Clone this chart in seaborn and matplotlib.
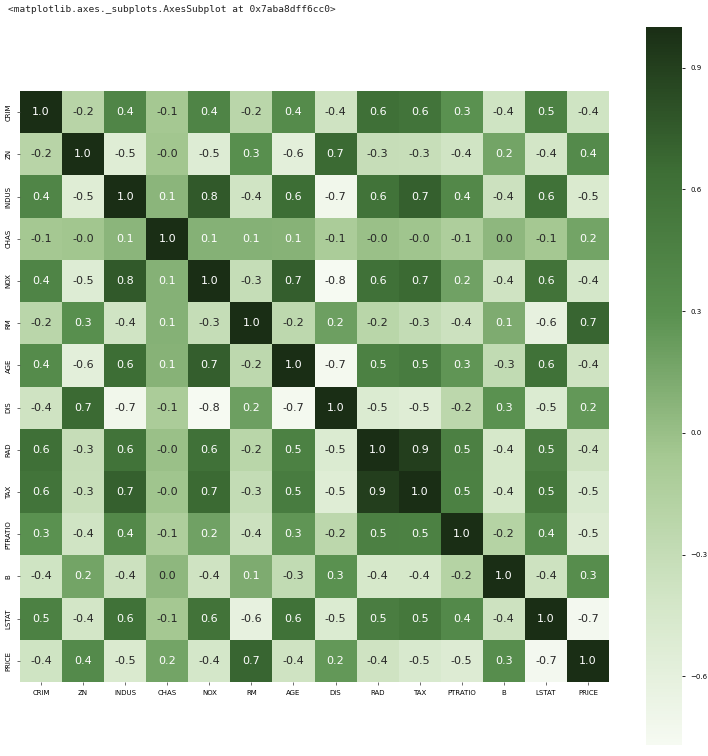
import numpy as np
import pandas as pd
import matplotlib
matplotlib.use("Agg")
import matplotlib.pyplot as plt
import seaborn as sns

labels = ["CRIM", "ZN", "INDUS", "CHAS", "NOX", "RM", "AGE", "DIS",
          "RAD", "TAX", "PTRATIO", "B", "LSTAT", "PRICE"]

crim    = [1.000, -0.200, 0.407, -0.056, 0.421, -0.219, 0.353, -0.380, 0.626, 0.583, 0.290, -0.385, 0.456, -0.388]
zn      = [-0.200, 1.000, -0.534, -0.043, -0.517, 0.312, -0.570, 0.664, -0.312, -0.315, -0.392, 0.176, -0.413, 0.360]
indus   = [0.407, -0.534, 1.000, 0.063, 0.764, -0.392, 0.645, -0.708, 0.595, 0.721, 0.383, -0.357, 0.604, -0.484]
chas    = [-0.056, -0.043, 0.063, 1.000, 0.091, 0.091, 0.087, -0.099, -0.007, -0.036, -0.122, 0.049, -0.054, 0.175]
nox     = [0.421, -0.517, 0.764, 0.091, 1.000, -0.302, 0.731, -0.769, 0.611, 0.668, 0.189, -0.380, 0.591, -0.427]
rm      = [-0.219, 0.312, -0.392, 0.091, -0.302, 1.000, -0.240, 0.205, -0.210, -0.292, -0.356, 0.128, -0.614, 0.695]
age     = [0.353, -0.570, 0.645, 0.087, 0.731, -0.240, 1.000, -0.748, 0.456, 0.506, 0.262, -0.274, 0.602, -0.377]
dis     = [-0.380, 0.664, -0.708, -0.099, -0.769, 0.205, -0.748, 1.000, -0.495, -0.534, -0.232, 0.292, -0.497, 0.2499]
rad     = [0.626, -0.312, 0.595, -0.007, 0.611, -0.210, 0.456, -0.495, 1.000, 0.910, 0.465, -0.444, 0.489, -0.382]
tax     = [0.583, -0.315, 0.721, -0.036, 0.668, -0.292, 0.506, -0.534, 0.910, 1.000, 0.461, -0.442, 0.544, -0.469]
ptratio = [0.290, -0.392, 0.383, -0.122, 0.189, -0.356, 0.262, -0.232, 0.465, 0.461, 1.000, -0.177, 0.374, -0.508]
b       = [-0.385, 0.176, -0.357, 0.049, -0.380, 0.128, -0.274, 0.292, -0.444, -0.442, -0.177, 1.000, -0.366, 0.333]
lstat   = [0.456, -0.413, 0.604, -0.054, 0.591, -0.614, 0.602, -0.497, 0.489, 0.544, 0.374, -0.366, 1.000, -0.738]
price   = [-0.388, 0.360, -0.484, 0.175, -0.427, 0.695, -0.377, 0.2499, -0.382, -0.469, -0.508, 0.333, -0.738, 1.000]

rows = [crim, zn, indus, chas, nox, rm, age, dis, rad, tax, ptratio, b, lstat, price]
corr = pd.DataFrame(rows, index=labels, columns=labels)

fig = plt.figure(figsize=(7.08, 7.56), dpi=100)
ax = fig.add_axes([20/708, 1 - 682/756, 589/708, 591/756])
cax = fig.add_axes([646/708, 11/756, 36/708, 718/756])

cmap = sns.blend_palette(["#f6faf2", "#d3e6c7", "#a6c993", "#5a9150", "#3d6e35", "#1a2e15"],
                         as_cmap=True)

sns.heatmap(corr, ax=ax, cbar_ax=cax, cmap=cmap, annot=True, fmt=".1f",
            annot_kws={"size": 8}, square=False)

ax.tick_params(axis="both", labelsize=5, length=2.5, width=0.6, color="#555555")
ax.set_yticklabels(labels, rotation=90, va="center")
ax.set_xticklabels(labels, rotation=0)

cax.set_yticks([-0.6, -0.3, 0.0, 0.3, 0.6, 0.9])
cax.set_yticklabels(["\u22120.6", "\u22120.3", "0.0", "0.3", "0.6", "0.9"])
cax.tick_params(labelsize=5, length=2.5, width=0.6)

fig.text(8/708, 1 - 10/756, "<matplotlib.axes._subplots.AxesSubplot at 0x7aba8dff6cc0>",
         family="DejaVu Sans Mono", fontsize=6.8, va="center", ha="left", color="#222222")

fig.savefig("out.png", dpi=100)
